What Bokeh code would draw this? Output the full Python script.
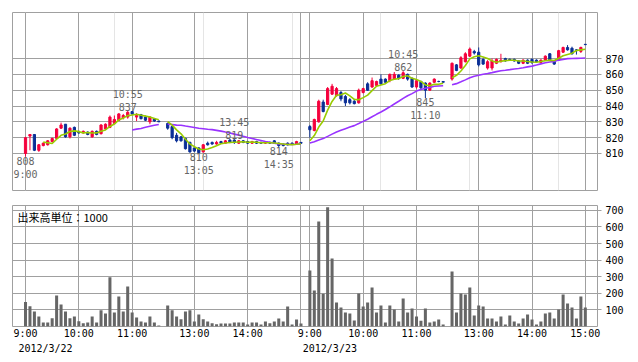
import math
from bokeh.plotting import figure
from bokeh.layouts import column
from bokeh.models import Range1d, FixedTicker, Grid, Label, LinearAxis
from bokeh.embed import file_html
from bokeh.resources import INLINE
from bokeh.core.properties import value

# ---------------- data ----------------
dates = ["2012/3/22", "2012/3/23"]
session_starts = ["9:00", "12:30"]
bars_per_session = 31

open_ = [
    # 3/22 AM
    810, 821, 822, 812, 815, 815.5, 817.5, 819.5, 826, 828.5, 820.5, 826.5, 823.5, 823, 823.5, 820.5,
    824, 822.5, 825.5, 826.5, 829, 831, 832.5, 833, 836.5, 833, 834.5, 833, 830, 832, 830.5,
    # 3/22 PM
    829, 827, 821.5, 820.5, 819.5, 817, 813.5, 813.5, 811, 816.5, 817, 816, 817.5, 816.5, 818.5, 818.5,
    816.5, 818, 817.5, 816.5, 817.5, 817, 816.5, 817, 818, 816.5, 815.5, 816.5, 816.5, 816, 817,
    # 3/23 AM
    827, 824.5, 830, 842.5, 841, 847.5, 846.5, 848.5, 846, 844, 843, 842, 848.5, 854, 852, 853,
    857, 857, 856, 857, 859.5, 857.5, 860, 857.5, 852, 855.5, 854.5, 850, 855, 855.5, 855.5,
    # 3/23 PM
    857, 866, 864, 868, 871.5, 874.5, 874, 869.5, 864, 864, 867, 868, 870, 869.5, 869.5, 868.5,
    867, 869, 869.5, 869, 867.5, 869, 873, 868.5, 869, 874, 877, 876.5, 875.5, 874.5, 879,
]
high_ = [
    820.5, 822, 822, 816, 817, 818.5, 820, 826, 829.5, 828.5, 826.5, 827, 824.5, 824.5, 824, 824.5,
    824.5, 828.5, 829, 834, 834, 835.5, 835, 837, 836.5, 835.5, 835, 834, 833.5, 832.5, 830.7,
    829.5, 827.5, 823, 821, 820, 817.5, 814, 814, 816, 817.5, 817.5, 818, 818, 818.5, 819, 819,
    818.5, 818.5, 818, 818, 818, 817.5, 817.5, 817.5, 818.5, 817, 816.5, 817, 817, 818, 817,
    828, 832, 844, 844, 852, 854, 852, 849.5, 847, 845, 844.5, 851, 851.5, 855, 858, 856,
    860, 857.5, 860.5, 861.5, 860, 862, 860.5, 858, 857, 856, 855, 855, 857.5, 856, 855.5,
    867.5, 866.5, 871.5, 874, 877, 875.5, 877, 870, 869, 870, 870, 873, 870.5, 870, 870, 869,
    869.5, 869.5, 870, 869.5, 869.5, 872, 873.5, 869, 875.5, 877.5, 878.5, 877.5, 876, 877.5, 879,
]
low_ = [
    808, 812, 811.5, 811, 814.5, 815, 817, 819, 825.5, 820, 819.5, 821, 822.5, 822.5, 821.5, 820,
    821.5, 822, 825, 826, 828.5, 830.5, 831.5, 832, 834.5, 830.5, 831.5, 830.5, 828.5, 830, 830,
    825, 819, 817, 817.5, 812.5, 810.5, 811, 810, 810.5, 815, 815.5, 815.5, 816, 816, 816.5, 816,
    816, 816.5, 816, 816, 816, 816, 816, 816, 816, 814, 814.5, 815, 815.5, 815.5, 816,
    820, 824, 829.5, 836, 840.5, 847, 846, 843, 840, 841, 841, 841.5, 848, 849.5, 851.5, 852.5,
    853.5, 854.5, 855, 856.5, 856.5, 857, 856, 851.5, 851, 850.5, 845, 849.5, 854.5, 855, 855,
    856, 862, 863.5, 867.5, 871, 872.5, 865, 866, 863, 862.5, 866.5, 867.5, 868, 868.5, 868, 866.5,
    866.5, 866.5, 866.5, 867.5, 867, 868.5, 868.5, 866, 868.5, 873.5, 875, 872.5, 872.5, 873.5, 878.5,
]
close_ = [
    820, 822, 812, 815.5, 816.5, 818, 819.5, 825.5, 828, 820.5, 826, 821.5, 823, 824, 822, 824,
    822, 828, 828.5, 833, 831.5, 835, 834, 836, 835, 834, 832, 831, 833, 830.5, 830,
    826, 820, 818, 818, 813, 811, 811.5, 810.5, 815.5, 815.5, 816, 817, 816.5, 818, 817, 817,
    818, 817, 816.5, 817.5, 816.5, 816.5, 817, 816.5, 816.5, 815, 815, 815.5, 816, 817.5, 816.5,
    825, 831.5, 843, 836.5, 851, 852.5, 851, 844.5, 842, 842, 841.5, 850, 851, 850, 856, 855.5,
    854, 855, 860, 860, 857.5, 861, 857, 852, 856, 851.5, 850, 854.5, 857, 855.5, 855,
    867, 862.5, 870.5, 873, 876, 873.5, 866, 866.5, 868, 868.5, 869.5, 869, 868.5, 869, 868.5, 867,
    869, 867, 867.5, 868, 869, 871.5, 869, 866.5, 875, 877, 875.5, 873, 875, 877, 878.8,
]
volume = [
    147, 122, 90, 60, 24, 24, 50, 187, 132, 90, 50, 60, 32, 20, 24, 60,
    24, 98, 78, 297, 84, 181, 90, 241, 84, 54, 30, 24, 60, 24, 6,
    126, 98, 60, 44, 90, 98, 30, 72, 44, 30, 20, 14, 18, 18, 18, 24,
    24, 24, 12, 24, 24, 12, 30, 20, 30, 48, 30, 120, 12, 42, 18,
    337, 217, 633, 197, 719, 410, 145, 114, 84, 78, 36, 199, 120, 145, 235, 84,
    126, 24, 126, 102, 30, 169, 84, 108, 60, 34, 108, 24, 30, 42, 12,
    331, 84, 199, 193, 235, 66, 126, 120, 48, 48, 30, 60, 12, 66, 30, 18,
    48, 72, 42, 12, 30, 78, 84, 48, 102, 193, 139, 114, 48, 181, 114,
]

price_ticks = [810, 820, 830, 840, 850, 860, 870]
volume_ticks = [100, 200, 300, 400, 500, 600, 700]
hour_labels = ["9:00", "10:00", "11:00", "13:00", "14:00", "15:00"]
volume_unit_text = "出来高単位：1000"

ann_day = [0, 0, 0, 0, 0, 1, 1]
ann_time = ["9:00", "10:55", "13:05", "13:45", "14:35", "10:45", "11:10"]
ann_price = [808, 837, 810, 819, 814, 862, 845]
ann_kind = ["low", "high", "low", "high", "low", "high", "low"]

ma_short_n = 5
ma_long_n = 25

# ---------------- styling ----------------
UP = "#f5003c"
DOWN = "#0a2f96"
GREEN = "#99cc00"
PURPLE = "#9933ff"
GRID = "#a0a0a0"
VOLC = "#666666"
MONO = "DejaVu Sans Mono"

SLOTS_PER_DAY = 64
DATE_SHIFT = 4.5   # date label centred a little right of the day's first tick


def to_slot(day, t):
    h, m = (int(s) for s in t.split(":"))
    mins = h * 60 + m
    if mins <= 11 * 60 + 30:
        idx = (mins - 9 * 60) // 5
    else:
        idx = 32 + (mins - (12 * 60 + 30)) // 5
    return day * SLOTS_PER_DAY + idx


xs = []
sessions = []
for d in range(len(dates)):
    for st in session_starts:
        s0 = to_slot(d, st)
        idxs = []
        for i in range(bars_per_session):
            idxs.append(len(xs))
            xs.append(s0 + i)
        sessions.append(idxs)


def sma(vals, n):
    out = []
    for i in range(len(vals)):
        if i + 1 < n:
            out.append(float("nan"))
        else:
            out.append(sum(vals[i + 1 - n:i + 1]) / n)
    return out


ma_s = sma(close_, ma_short_n)
ma_l = sma(close_, ma_long_n)

x_first = to_slot(0, "9:00")
x_range = Range1d(x_first - 2.93, x_first + 128.74)

grid_slots = []
label_over = {}
for d in range(len(dates)):
    for hl in hour_labels:
        s = to_slot(d, hl)
        grid_slots.append(s)
        label_over[s] = hl
label_over[to_slot(0, "15:00")] = ""

date_slots = [to_slot(d, "9:00") + DATE_SHIFT for d in range(len(dates))]
date_over = {s: ds for s, ds in zip(date_slots, dates)}


def style_right_axis(ax):
    ax.axis_line_color = None
    ax.major_tick_out = 4
    ax.major_tick_in = 0
    ax.major_tick_line_color = GRID
    ax.minor_tick_line_color = None
    ax.major_label_standoff = 4
    ax.major_label_text_font = MONO
    ax.major_label_text_font_size = "10px"
    ax.major_label_text_color = "#000000"


# ---------------- price panel ----------------
p = figure(frame_width=585, frame_height=178, x_range=x_range,
           y_range=Range1d(786.6, 899.1), output_backend="svg",
           toolbar_location=None, x_axis_location=None, y_axis_location="right",
           min_border_left=12, min_border_top=12, min_border_bottom=7, min_border_right=41)
p.outline_line_color = GRID
p.yaxis.ticker = FixedTicker(ticks=price_ticks)
style_right_axis(p.yaxis[0])
p.ygrid.ticker = FixedTicker(ticks=price_ticks)
p.ygrid.grid_line_color = GRID
p.add_layout(Grid(dimension=0, ticker=FixedTicker(ticks=grid_slots), grid_line_color=GRID))

colors = [UP if c > o else DOWN for o, c in zip(open_, close_)]
p.segment(x0=xs, y0=low_, x1=xs, y1=high_, color=colors, line_width=1)
p.vbar(x=xs, width=0.5, top=[max(o, c) for o, c in zip(open_, close_)],
       bottom=[min(o, c) for o, c in zip(open_, close_)],
       fill_color=colors, line_color=colors, line_width=1)

for idxs in sessions:
    for ma, col in ((ma_l, PURPLE), (ma_s, GREEN)):
        sx = [xs[i] for i in idxs if not math.isnan(ma[i])]
        sy = [ma[i] for i in idxs if not math.isnan(ma[i])]
        if sx:
            p.line(sx, sy, line_color=col, line_width=1.6)

for kind in ("high", "low"):
    ax = [to_slot(d, t) for d, t, k in zip(ann_day, ann_time, ann_kind) if k == kind]
    ay = [pr for pr, k in zip(ann_price, ann_kind) if k == kind]
    at = [t for t, k in zip(ann_time, ann_kind) if k == kind]
    av = [str(pr) for pr, k in zip(ann_price, ann_kind) if k == kind]
    common = dict(text_font=value(MONO), text_font_size="10px", text_color="#666666",
                  text_align="center")
    if kind == "high":
        p.text(x=ax, y=ay, text=av, text_baseline="bottom", y_offset=0, **common)
        p.text(x=ax, y=ay, text=at, text_baseline="bottom", y_offset=-11, **common)
    else:
        p.text(x=ax, y=ay, text=av, text_baseline="top", y_offset=0, **common)
        p.text(x=ax, y=ay, text=at, text_baseline="top", y_offset=12, **common)

# ---------------- volume panel ----------------
v = figure(frame_width=585, frame_height=121, x_range=x_range,
           y_range=Range1d(0, 729), output_backend="svg",
           toolbar_location=None, y_axis_location="right",
           min_border_left=12, min_border_top=8, min_border_bottom=34, min_border_right=41)
v.outline_line_color = GRID
v.vbar(x=xs, top=volume, width=0.68, fill_color=VOLC, line_color=None)
v.yaxis.ticker = FixedTicker(ticks=volume_ticks)
style_right_axis(v.yaxis[0])
v.ygrid.ticker = FixedTicker(ticks=volume_ticks)
v.ygrid.grid_line_color = GRID


def style_bottom_axis(ax, standoff):
    ax.axis_line_color = None
    ax.major_tick_out = 0
    ax.major_tick_in = 0
    ax.minor_tick_line_color = None
    ax.major_label_standoff = standoff
    ax.major_label_text_font = MONO
    ax.major_label_text_font_size = "10px"
    ax.major_label_text_color = "#000000"


v.xaxis.ticker = FixedTicker(ticks=grid_slots)
v.xaxis.major_label_overrides = label_over
style_bottom_axis(v.xaxis[0], 1)
v.xgrid.ticker = FixedTicker(ticks=grid_slots)
v.xgrid.grid_line_color = GRID

date_axis = LinearAxis(ticker=FixedTicker(ticks=date_slots), major_label_overrides=date_over)
style_bottom_axis(date_axis, 1)
v.add_layout(date_axis, "below")

v.add_layout(Label(x=x_range.start, y=v.y_range.end, x_offset=5, y_offset=-3,
                   text=volume_unit_text, text_align="left", text_baseline="top",
                   text_font="Noto Sans CJK JP", text_font_size="11px", text_color="#000000"))

layout = column(p, v, spacing=0)
open("out.html", "w").write(file_html(layout, INLINE))
